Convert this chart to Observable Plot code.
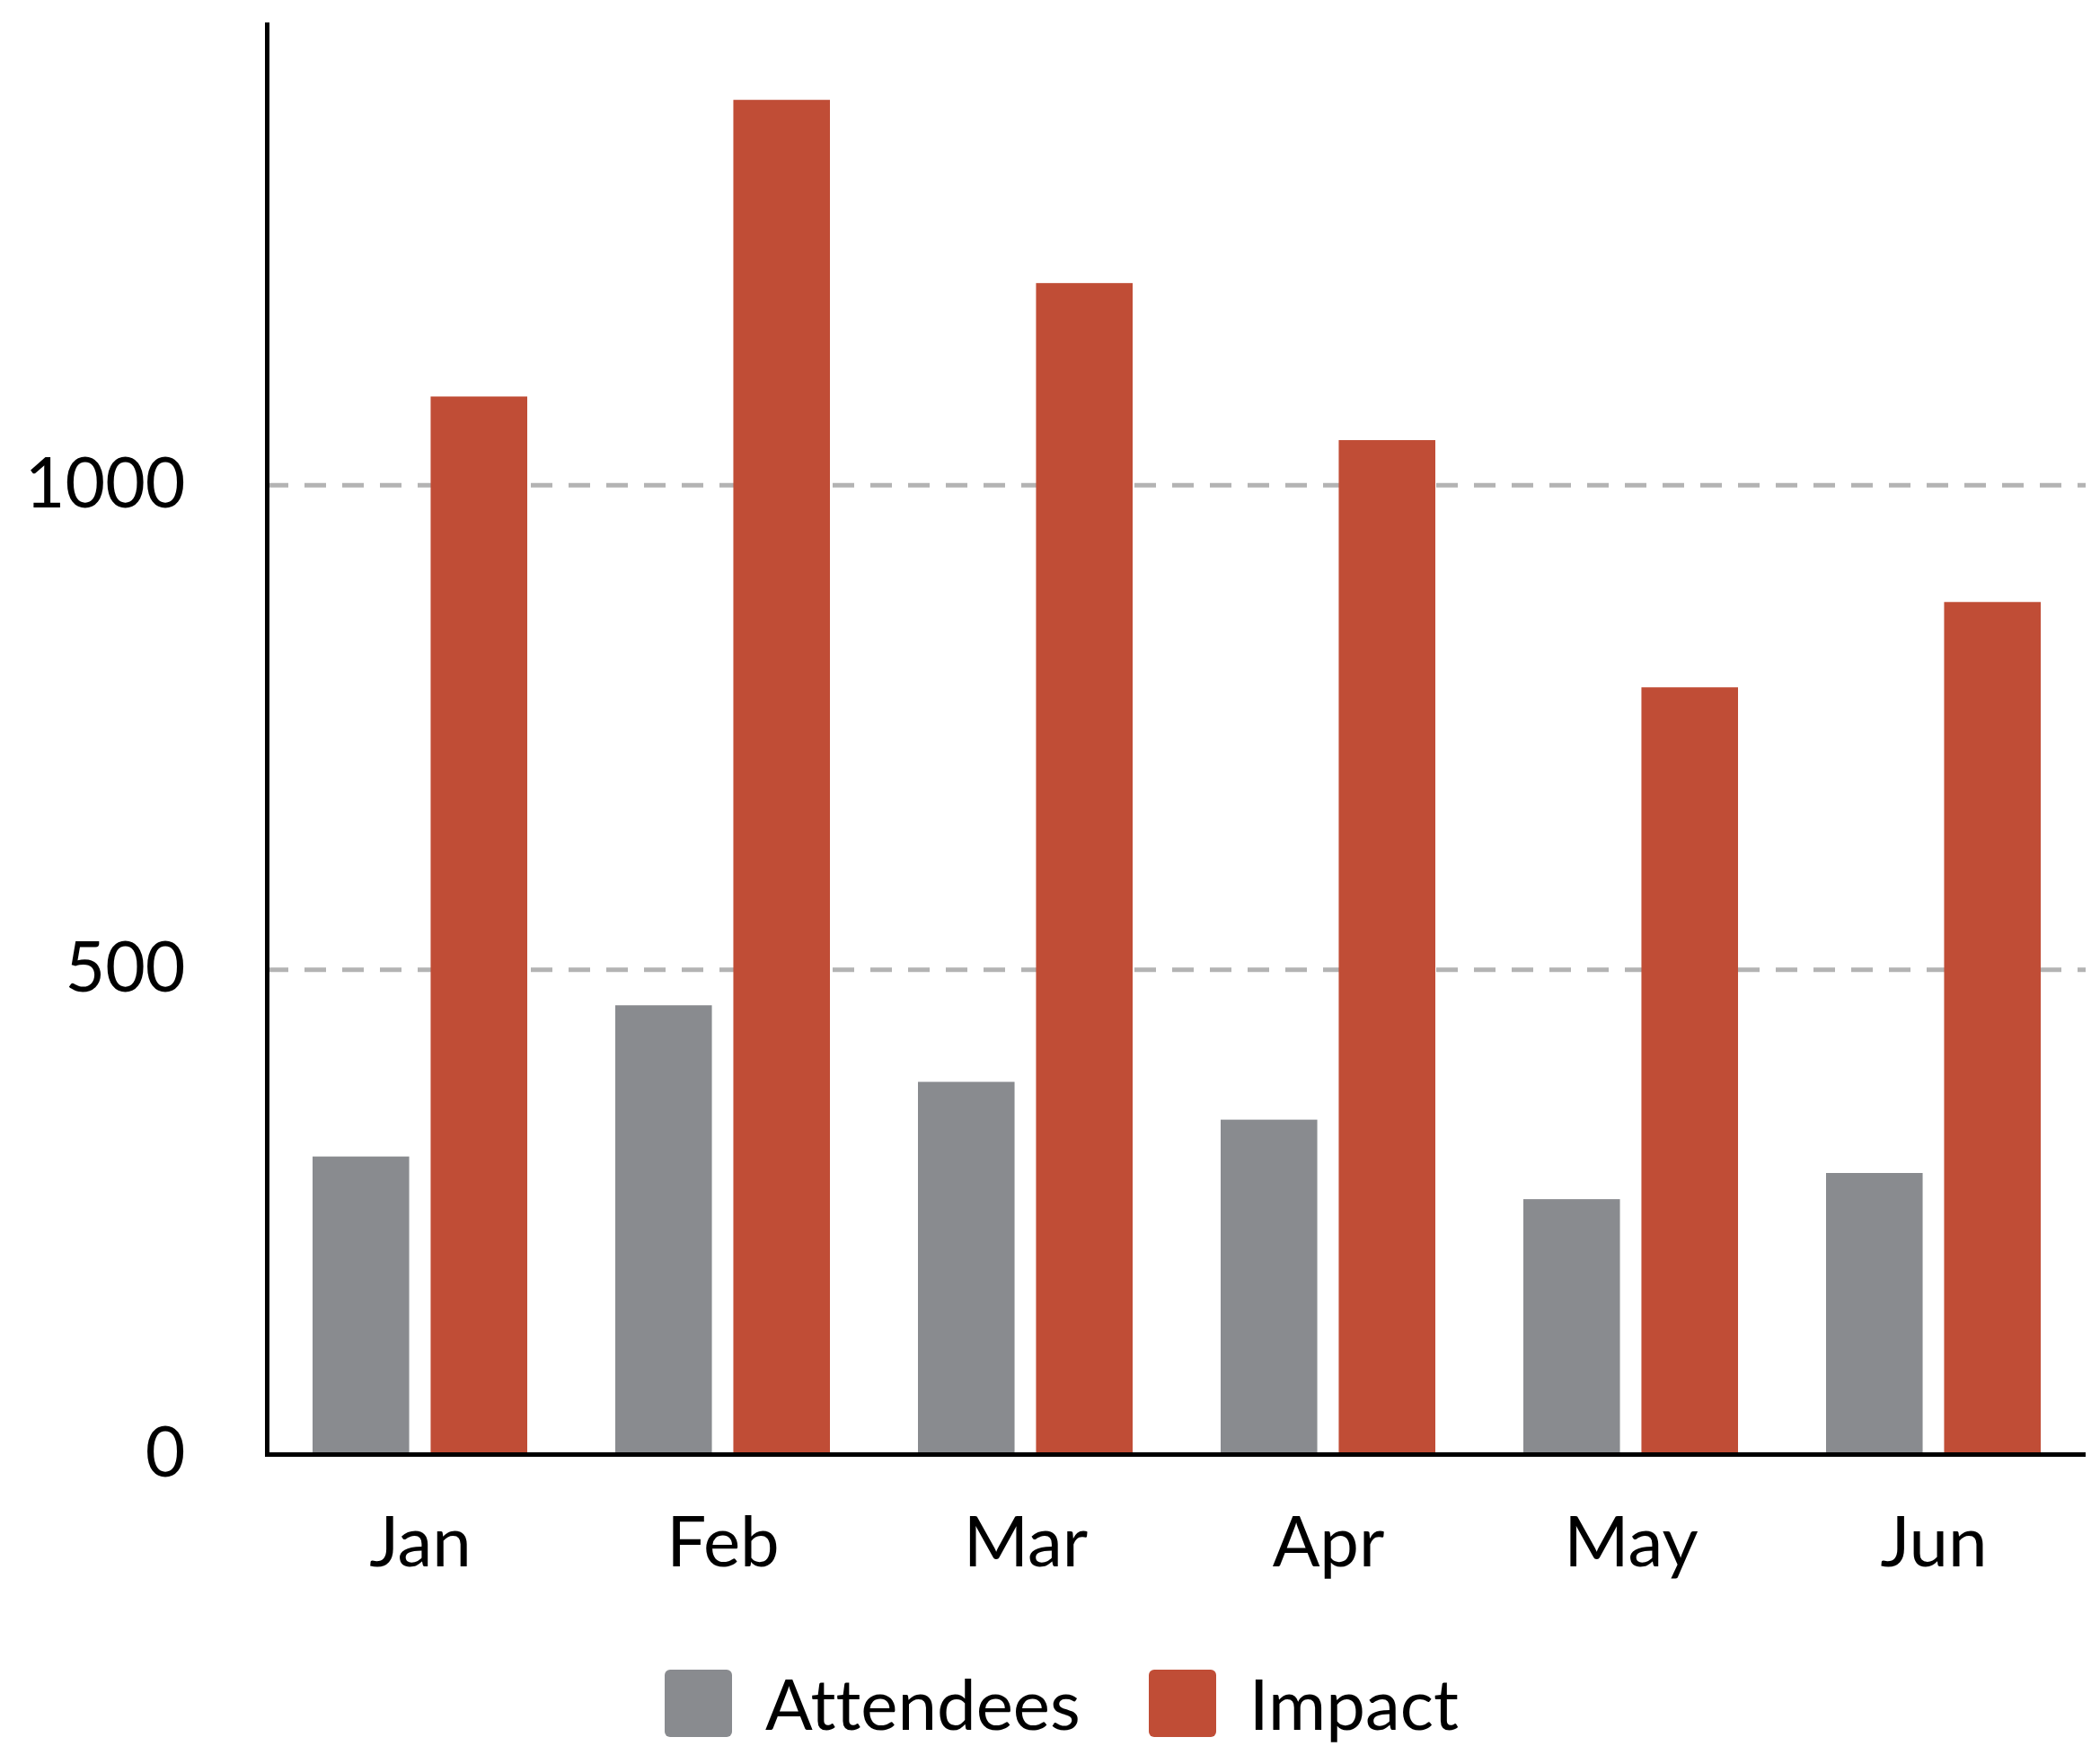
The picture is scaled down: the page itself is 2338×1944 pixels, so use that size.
<!DOCTYPE html>
<html>
<head>
<meta charset="utf-8">
<script src="https://cdn.jsdelivr.net/npm/d3@7"></script>
<script src="https://cdn.jsdelivr.net/npm/@observablehq/plot@0.6"></script>
<style>
  html, body { margin: 0; padding: 0; background: #fff; }
  body { width: 2338px; height: 1944px; overflow: hidden; font-family: Lato, "Open Sans", sans-serif; }
  #chart svg { display: block; }
  #legend { display: flex; align-items: center; justify-content: center; height: 75px; line-height: 75px; margin-top: 39px; padding-left: 26px; font-family: Lato, sans-serif; font-size: 78px; color: #000; font-variant-ligatures: none; }
  .item { display: flex; align-items: center; height: 75px; }
  .sw { width: 75px; height: 75px; border-radius: 6px; margin-right: 37px; }
  .item + .item { margin-left: 76px; }
</style>
</head>
<body>
<div id="chart"></div>
<div id="legend"></div>
<script>
const months = ["Jan", "Feb", "Mar", "Apr", "May", "Jun"];
const attendees = [307, 463, 384, 345, 263, 290];
const impact = [1091, 1397, 1208, 1046, 791, 879];
const yTicks = [0, 500, 1000];
const gridTicks = [500, 1000];
const seriesNames = ["Attendees", "Impact"];
const seriesColors = ["#898b8f", "#c04d36"];

const W = 2338, H = 1820;
const layout = {
  width: W, height: H,
  marginLeft: 297, marginRight: 16, marginTop: 27, marginBottom: H - 1619,
  style: {fontFamily: "Lato, sans-serif", fontSize: "78px", color: "#000", background: "#fff"}
};
const xOpts = {domain: months, paddingInner: 0.292, paddingOuter: 0.15};
const yOpts = {domain: [0, 1475]};

// preliminary plot to read bandwidth
const probe = Plot.plot({...layout, x: xOpts, y: yOpts, marks: [Plot.barY(months, {x: d => d, y: () => 1})]});
const bw = probe.scale("x").bandwidth;
const innerGap = bw * 16 / 160;
const barW = (bw - innerGap) / 2;

const attData = months.map((m, i) => ({month: m, value: attendees[i]}));
const impData = months.map((m, i) => ({month: m, value: impact[i]}));

const chart = Plot.plot({
  ...layout,
  x: {...xOpts, label: null},
  y: {...yOpts, label: null},
  marks: [
    Plot.ruleY(gridTicks, {stroke: "#b3b3b3", strokeWidth: 5, strokeDasharray: "24,18"}),
    Plot.barY(attData, {x: "month", y: "value", fill: seriesColors[0], insetLeft: 0, insetRight: bw - barW}),
    Plot.barY(impData, {x: "month", y: "value", fill: seriesColors[1], insetLeft: bw - barW, insetRight: 0}),
    Plot.ruleY([0], {stroke: "#000", strokeWidth: 5}),
    Plot.frame({anchor: "left", stroke: "#000", strokeWidth: 5}),
    Plot.axisY(yTicks, {tickSize: 0, tickPadding: 91, tickFormat: d => String(d), fontSize: 77, label: null}),
    Plot.axisX({tickSize: 0, tickPadding: 69, fontSize: 78, label: null})
  ]
});
document.getElementById("chart").appendChild(chart);

const legend = document.getElementById("legend");
seriesNames.forEach((name, i) => {
  const item = document.createElement("div");
  item.className = "item";
  const sw = document.createElement("div");
  sw.className = "sw";
  sw.style.background = seriesColors[i];
  const t = document.createElement("span");
  t.textContent = name;
  item.appendChild(sw);
  item.appendChild(t);
  legend.appendChild(item);
});
</script>
</body>
</html>
